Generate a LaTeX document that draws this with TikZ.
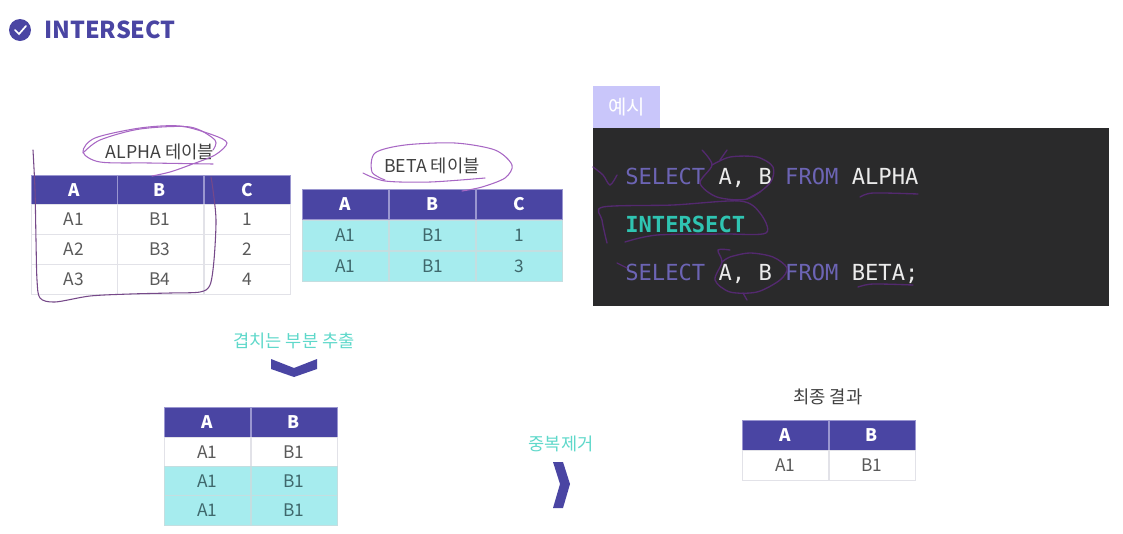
\documentclass[tikz,border=0pt]{standalone}
\usepackage{fontspec}
\setmainfont{Noto Sans CJK KR}
\setmonofont{DejaVu Sans Mono}
\usepackage{tikz}
\definecolor{headpurple}{HTML}{4A45A3}
\definecolor{headline}{HTML}{9A96D0}
\definecolor{gridgrey}{HTML}{E2E2E8}
\definecolor{celltext}{HTML}{5A5A5A}
\definecolor{matchcyan}{HTML}{A6ECEE}
\definecolor{matchline}{HTML}{C4DEE0}
\definecolor{matchtext}{HTML}{3F686C}
\definecolor{labelteal}{HTML}{5FD8CA}
\definecolor{tablilac}{HTML}{C9C6FA}
\definecolor{codeback}{HTML}{2A2A2B}
\definecolor{keyword}{HTML}{6C64B4}
\definecolor{codeteal}{HTML}{2FC4B2}
\definecolor{penpurple}{HTML}{A868C4}
\definecolor{pendark}{HTML}{53296F}
\tikzset{
  cell/.style={rectangle,inner sep=0pt,minimum width=64.5pt,minimum height=22.5pt,font=\fontsize{13}{15}\selectfont},
  headcell/.style={cell,draw=headline,fill=headpurple,text=white,font=\fontsize{13}{15}\selectfont\bfseries},
  datacell/.style={cell,draw=gridgrey,fill=white,text=celltext},
  matchcell/.style={cell,draw=matchline,fill=matchcyan,text=matchtext},
  caption/.style={inner sep=0pt,text=black!75,font=\fontsize{13.3}{15}\selectfont},
  steplabel/.style={inner sep=0pt,text=labelteal,font=\fontsize{13.2}{15}\selectfont},
  codeline/.style={anchor=west,inner sep=0pt,text=white!92!black,font=\fontsize{16.6}{18}\selectfont\ttfamily},
  penline/.style={draw=penpurple,line width=0.8pt,line cap=round},
  pencode/.style={draw=pendark,line width=1pt,line cap=round}
}
\begin{document}
\begin{tikzpicture}[x=0.75pt,y=-0.75pt]
  \useasboundingbox (0,0) rectangle (1123,533);

  % title
  \node [circle,fill=headpurple,minimum size=16.5pt,inner sep=0pt] (titleicon) at (20,30) {};
  \draw [white,line width=1.3pt,line cap=round] (15,30) -- (19,34) -- (26,26);
  \node [anchor=west,inner sep=0pt,text=headpurple,font=\fontsize{17.5}{20}\selectfont\bfseries] (titletext) at (44,29.5) {INTERSECT};

  % ALPHA table
  \node [caption] (alphacap) at (160,152) {ALPHA 테이블};
  \node [headcell] (alphaA) at (74,190) {A};
  \node [headcell] (alphaB) at (160,190) {B};
  \node [headcell] (alphaC) at (247,190) {C};
  \node [datacell] (alphaA1) at (74,219) {A1};
  \node [datacell] (alphaB1) at (160,219) {B1};
  \node [datacell] (alphaC1) at (247,219) {1};
  \node [datacell] (alphaA2) at (74,249) {A2};
  \node [datacell] (alphaB2) at (160,249) {B3};
  \node [datacell] (alphaC2) at (247,249) {2};
  \node [datacell] (alphaA3) at (74,279) {A3};
  \node [datacell] (alphaB3) at (160,279) {B4};
  \node [datacell] (alphaC3) at (247,279) {4};

  % BETA table
  \node [caption] (betacap) at (432,166) {BETA 테이블};
  \node [headcell] (betaA) at (345.5,204) {A};
  \node [headcell] (betaB) at (432.5,204) {B};
  \node [headcell] (betaC) at (519,204) {C};
  \node [matchcell] (betaA1) at (345.5,235) {A1};
  \node [matchcell] (betaB1) at (432.5,235) {B1};
  \node [matchcell] (betaC1) at (519,235) {1};
  \node [matchcell] (betaA2) at (345.5,266) {A1};
  \node [matchcell] (betaB2) at (432.5,266) {B1};
  \node [matchcell] (betaC2) at (519,266) {3};

  % example code
  \node [anchor=north west,fill=tablilac,minimum width=50pt,minimum height=31.5pt,inner sep=0pt,text=white,font=\fontsize{15}{18}\selectfont] (exampletab) at (593,86) {예시};
  \node [anchor=north west,fill=codeback,minimum width=387pt,minimum height=133.5pt,inner sep=0pt] (codebox) at (593,128) {};
  \node [codeline] (selectone) at (625,178) {\textcolor{keyword}{SELECT} A, B \textcolor{keyword}{FROM} ALPHA};
  \node [codeline,text=codeteal,font=\fontsize{16.6}{18}\selectfont\ttfamily\bfseries] (intersect) at (625,224) {INTERSECT};
  \node [codeline] (selecttwo) at (625,274) {\textcolor{keyword}{SELECT} A, B \textcolor{keyword}{FROM} BETA;};

  % overlap step
  \node [steplabel] (overlaplabel) at (294,341) {겹치는 부분 추출};
  \fill [headpurple] (271,359) -- (294,368) -- (317,359) -- (317,369) -- (294,377) -- (271,369) -- cycle;
  \node [headcell] (overA) at (207.5,422.5) {A};
  \node [headcell] (overB) at (294,422.5) {B};
  \node [datacell] (overA1) at (207.5,452) {A1};
  \node [datacell] (overB1) at (294,452) {B1};
  \node [matchcell] (overA2) at (207.5,481) {A1};
  \node [matchcell] (overB2) at (294,481) {B1};
  \node [matchcell] (overA3) at (207.5,510) {A1};
  \node [matchcell] (overB3) at (294,510) {B1};

  % distinct step
  \node [steplabel] (distinctlabel) at (561,444) {중복제거};
  \fill [headpurple] (553,462) -- (563,462) -- (570,484) -- (563,508) -- (553,508) -- (560,484) -- cycle;

  % final result
  \node [caption] (finalcap) at (828,397) {최종 결과};
  \node [headcell] (finalA) at (785.5,435) {A};
  \node [headcell] (finalB) at (872,435) {B};
  \node [datacell] (finalA1) at (785.5,465) {A1};
  \node [datacell] (finalB1) at (872,465) {B1};

  % pen marks on the tables
  \draw [penline] plot [smooth] coordinates {(213,164) (150,163) (100,162) (83,152) (95,138) (140,128) (180,126) (213,135) (227,143) (215,155) (190,165) (170,172) (152,176)};
  \draw [penline] plot [smooth] coordinates {(83,153) (100,140) (140,129) (190,127) (215,140) (213,150)};
  \draw [penline,draw=penpurple!70!black] plot [smooth] coordinates {(33,150) (35,190) (36,240) (37,280) (40,298) (55,302) (90,296) (130,294) (170,293) (200,292) (210,285) (214,260) (216,220) (213,190) (211,177)};
  \draw [penline] plot [smooth] coordinates {(363,173) (385,181) (430,182) (485,178)};
  \draw [penline] plot [smooth] coordinates {(385,180) (372,172) (375,153) (405,145) (455,143) (495,150) (512,165) (505,178) (482,187) (462,191)};

  % pen marks on the code
  \draw [pencode] plot [smooth] coordinates {(593,167) (603,175) (610,185) (617,175)};
  \draw [pencode] plot [smooth] coordinates {(702,150) (712,165) (700,183) (717,197) (747,199) (770,183) (773,167) (757,157) (730,157) (712,165)};
  \draw [pencode] (727,150) -- (720,160);
  \draw [pencode] (747,199) -- (760,192);
  \draw [pencode] plot [smooth] coordinates {(860,197) (873,193) (918,194)};
  \draw [pencode] plot [smooth] coordinates {(607,243) (602,220) (603,207) (673,205) (740,201) (760,213) (766,233) (723,234) (657,235) (625,242)};
  \draw [pencode] (617,263) -- (627,268);
  \draw [pencode] plot [smooth] coordinates {(730,250) (718,250) (722,262) (715,280) (730,292) (757,292) (780,280) (787,268) (773,257) (750,253) (730,257) (722,262)};
  \draw [pencode] (743,293) -- (747,300);
  \draw [pencode] plot [smooth] coordinates {(858,287) (873,284) (913,285)};
\end{tikzpicture}
\end{document}
